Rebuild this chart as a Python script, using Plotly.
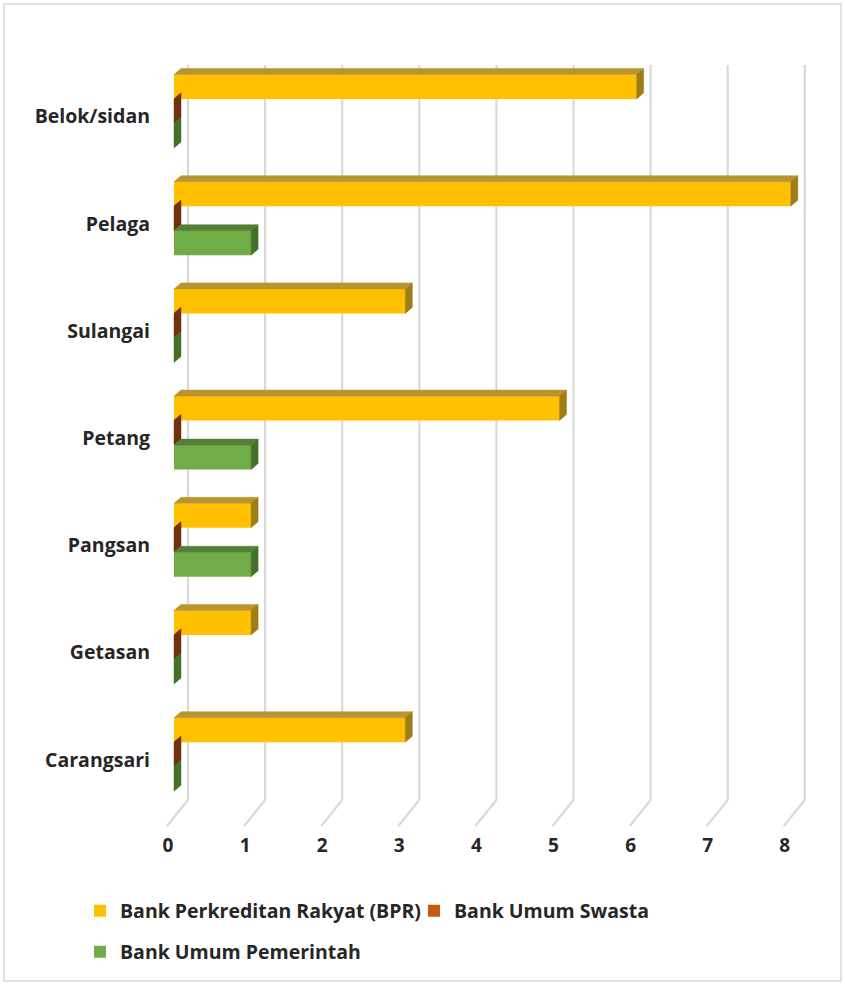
import plotly.graph_objects as go

# ---------------- data ----------------
categories = ["Belok/sidan", "Pelaga", "Sulangai", "Petang", "Pangsan", "Getasan", "Carangsari"]
bpr = [6, 8, 3, 5, 1, 1, 3]
swasta = [0, 0, 0, 0, 0, 0, 0]
pemerintah = [0, 1, 0, 1, 1, 0, 0]
series_names = ["Bank Perkreditan Rakyat (BPR)", "Bank Umum Swasta", "Bank Umum Pemerintah"]
x_ticks = [0, 1, 2, 3, 4, 5, 6, 7, 8]

# ---------------- geometry (pixel based) ----------------
W_PX, H_PX = 845, 985
L, R = 160, 825            # plot area left/right px
T, B = 63, 830             # plot area top/bottom px
SX = 77.1                  # px per x unit
SY = 107.2                 # px per category
X0_PX = 174                # pixel of x=0 on the front plane
xr0 = -(X0_PX - L) / SX
xr1 = xr0 + (R - L) / SX
yr_top = -0.5
yr_bot = yr_top + (B - T) / SY

def dxu(p):
    return p / SX

def dyu(p):
    return p / SY

bw = dyu(24.5)                 # bar thickness (category units)
shift = -0.05
offsets = [shift - 1.5 * bw, shift - 0.5 * bw, shift + 0.5 * bw]
DX, DY = dxu(7), dyu(6)        # 3D depth of bars

front_cols = ["#FFC000", "#C55A11", "#70AD47"]
top_cols = ["#B89530", "#8A3F12", "#557F38"]
side_cols = ["#A07C14", "#70300C", "#44712A"]
values = [bpr, swasta, pemerintah]
ypos = list(range(len(categories)))

fig = go.Figure()

legends = ["legend", "legend2", "legend3"]
for i, (name, vals) in enumerate(zip(series_names, values)):
    fig.add_trace(go.Bar(
        y=ypos, x=vals, orientation="h", name=name,
        width=bw, offset=offsets[i],
        marker=dict(color=front_cols[i], line=dict(width=0)),
        hoverinfo="skip", legend=legends[i],
    ))

# 3D faces built from the same values
for i, vals in enumerate(values):
    tx, ty, sx, sy = [], [], [], []
    for yc, v in zip(ypos, vals):
        a = yc + offsets[i]
        b = a + bw
        tx += [0, v, v + DX, DX, 0, None]
        ty += [a, a, a - DY, a - DY, a, None]
        sx += [v, v, v + DX, v + DX, v, None]
        sy += [a, b, b - DY, a - DY, a, None]
    fig.add_trace(go.Scatter(x=tx, y=ty, mode="lines", fill="toself",
                             fillcolor=top_cols[i], line=dict(color=top_cols[i], width=0.5),
                             hoverinfo="skip", showlegend=False))
    fig.add_trace(go.Scatter(x=sx, y=sy, mode="lines", fill="toself",
                             fillcolor=side_cols[i], line=dict(color=side_cols[i], width=0.5),
                             hoverinfo="skip", showlegend=False))

# back-wall gridlines and floor edges
wall_dx = dxu(14)
wall_top = yr_top + dyu(65 - T)
wall_bot = yr_top + dyu(800 - T)
floor_front = yr_top + dyu(826 - T)
shapes = []
for v in x_ticks:
    shapes.append(dict(type="line", xref="x", yref="y", x0=v + wall_dx, x1=v + wall_dx,
                       y0=wall_top, y1=wall_bot, line=dict(color="#D9D9D9", width=2.2), layer="below"))
    shapes.append(dict(type="line", xref="x", yref="y", x0=v + wall_dx, x1=v - dxu(7),
                       y0=wall_bot, y1=floor_front, line=dict(color="#D9D9D9", width=2.2), layer="below"))

# outer frame
pw, ph = R - L, B - T
shapes.append(dict(type="rect", xref="paper", yref="paper",
                   x0=(4 - L) / pw, x1=(841 - L) / pw, y0=(B - 981) / ph, y1=(B - 4) / ph,
                   line=dict(color="#D9D9D9", width=1.5), layer="below"))

FONT = "Open Sans"
TXT = "#262626"

def leg(px_left, py_center):
    return dict(x=(px_left - L) / pw, y=(B - py_center) / ph, xanchor="left", yanchor="middle",
                orientation="h", bgcolor="rgba(0,0,0,0)", itemwidth=30,
                font=dict(family=FONT, size=19.5, color=TXT, weight="bold"))

fig.update_layout(
    width=W_PX, height=H_PX,
    margin=dict(l=L, r=W_PX - R, t=T, b=H_PX - B, pad=0),
    paper_bgcolor="white", plot_bgcolor="white",
    barmode="overlay",
    showlegend=True,
    legend=leg(80, 911),
    legend2=leg(414, 911),
    legend3=leg(80, 952),
    xaxis=dict(range=[xr0, xr1], tickmode="array", tickvals=x_ticks,
               ticktext=[str(v) for v in x_ticks], showgrid=False, zeroline=False,
               showline=False, ticks="", ticklabelshift=-6, ticklabelstandoff=2,
               tickfont=dict(family=FONT, size=19, color=TXT, weight="bold")),
    yaxis=dict(range=[yr_bot, yr_top], tickmode="array", tickvals=ypos, ticktext=categories,
               showgrid=False, zeroline=False, showline=False, ticks="",
               ticklabelstandoff=9,
               tickfont=dict(family=FONT, size=19.5, color=TXT, weight="bold")),
    shapes=shapes,
)

fig.write_html("out.html", config={"displayModeBar": False},
               post_script="document.body.style.margin='0';")
